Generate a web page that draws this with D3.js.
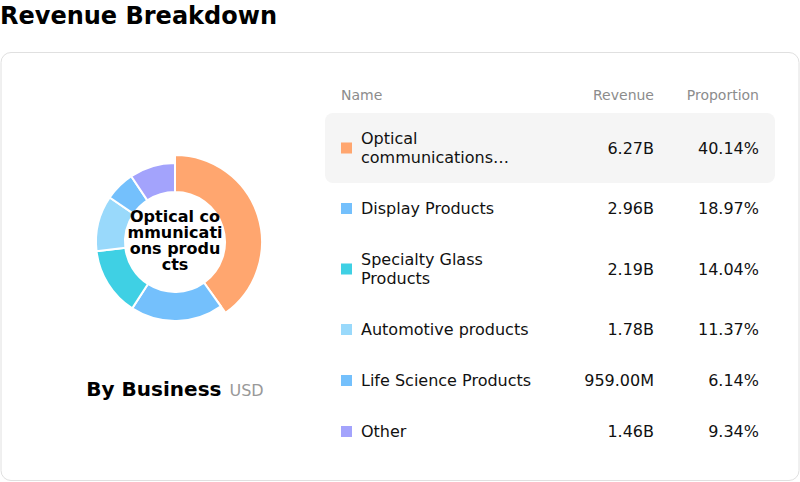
<!DOCTYPE html>
<html><head><meta charset="utf-8">
<script src="https://cdn.jsdelivr.net/npm/d3@7/dist/d3.min.js"></script>
<style>
html,body{margin:0;padding:0;background:#fff;}
svg{display:block;font-family:"DejaVu Sans",sans-serif;}
</style></head>
<body><svg id="c" width="800" height="482"></svg>
<script>
const categories = ["Optical communications products","Display Products","Specialty Glass Products","Automotive products","Life Science Products","Other"];
const revenue = [6.27e9, 2.96e9, 2.19e9, 1.78e9, 959.00e6, 1.46e9];
const revenueLabels = ["6.27B","2.96B","2.19B","1.78B","959.00M","1.46B"];
const proportions = [40.14, 18.97, 14.04, 11.37, 6.14, 9.34];
const colors = ["#ffa66f","#74c0fc","#3fd0e4","#99d9fb","#74c0fc","#a3a3fc"];
const headers = ["Name","Revenue","Proportion"];
// centre label as broken in the reference (break-all inside the hole)
const centerLabelLines = ["Optical co","mmunicati","ons produ","cts"];

const svg = d3.select("#c");

svg.append("text").attr("x",0).attr("y",24).attr("font-size",24).attr("font-weight","bold").attr("fill","#000").text("Revenue Breakdown");
svg.append("rect").attr("x",1).attr("y",52.5).attr("width",798).attr("height",428).attr("rx",10)
  .attr("fill","#fff").attr("stroke","#e0e0e0");

// donut
const cx = 175, cy = 242;
const pie = d3.pie().sort(null).value(d=>d)(proportions);
const arc = d3.arc().innerRadius(50).outerRadius(79);
const arcHi = d3.arc().innerRadius(50).outerRadius(87);
const g = svg.append("g").attr("transform",`translate(${cx},${cy})`);
g.selectAll("path").data(pie).join("path")
  .attr("d",(d,i)=> i===0 ? arcHi(d) : arc(d))
  .attr("fill",(d,i)=>colors[i]).attr("stroke","#fff").attr("stroke-width",2);

const ct = g.append("text").attr("text-anchor","middle").attr("font-size",16).attr("font-weight","bold").attr("fill","#000");
const cl = centerLabelLines;
cl.forEach((l,i)=>{
  ct.append("tspan").attr("x",0).attr("y",(i-(cl.length-1)/2)*15.8+4).text(l);
});

// By Business
const bb = svg.append("text").attr("x",175).attr("y",396).attr("text-anchor","middle");
bb.append("tspan").attr("font-size",20).attr("font-weight","bold").attr("fill","#000").text("By Business");
bb.append("tspan").attr("font-size",16).attr("fill","#999").attr("dx",8).text("USD");

// table
const nameX = 361, sqX = 341, revX = 654, propX = 759;
const hdr = svg.append("g").attr("font-size",14).attr("fill","#8c8c8c");
hdr.append("text").attr("x",sqX).attr("y",100).text(headers[0]);
hdr.append("text").attr("x",revX).attr("y",100).attr("text-anchor","end").text(headers[1]);
hdr.append("text").attr("x",propX).attr("y",100).attr("text-anchor","end").text(headers[2]);

function wordWrap(text, maxW, size, maxLines){
  const tmp = svg.append("text").attr("font-size",size);
  const w = s => { tmp.text(s); return tmp.node().getComputedTextLength(); };
  const words = text.split(" "); const lines=[]; let cur="";
  for(const wd of words){
    const t = cur? cur+" "+wd : wd;
    if(w(t)>maxW && cur){ lines.push(cur); cur=wd; } else cur=t;
  }
  if(cur) lines.push(cur);
  if(lines.length>maxLines){
    let last = lines[maxLines-1];
    while(w(last+"…")>maxW && last.length) last = last.slice(0,-1);
    const out = lines.slice(0,maxLines-1); out.push(last.trimEnd()+"…");
    tmp.remove(); return out;
  }
  tmp.remove(); return lines;
}

let y0 = 113;
const lh = 19, pad = 16;
categories.forEach((c,i)=>{
  const lines = wordWrap(c, 178, 16, 2);
  const h = lines.length*lh + pad*2;
  const mid = y0 + h/2;
  const row = svg.append("g");
  if(i===0) row.append("rect").attr("x",325).attr("y",y0).attr("width",450).attr("height",h).attr("rx",8).attr("fill","#f5f5f5");
  row.append("rect").attr("x",sqX).attr("y",mid-5.5).attr("width",11).attr("height",11).attr("fill",colors[i]);
  const t = row.append("text").attr("font-size",16).attr("fill","#111");
  lines.forEach((l,j)=>{
    t.append("tspan").attr("x",nameX).attr("y",mid+(j-(lines.length-1)/2)*lh+5.5).text(l);
  });
  row.append("text").attr("x",revX).attr("y",mid+5.5).attr("text-anchor","end").attr("font-size",16).attr("fill","#111").text(revenueLabels[i]);
  row.append("text").attr("x",propX).attr("y",mid+5.5).attr("text-anchor","end").attr("font-size",16).attr("fill","#111").text(proportions[i].toFixed(2)+"%");
  y0 += h;
});
</script></body></html>
